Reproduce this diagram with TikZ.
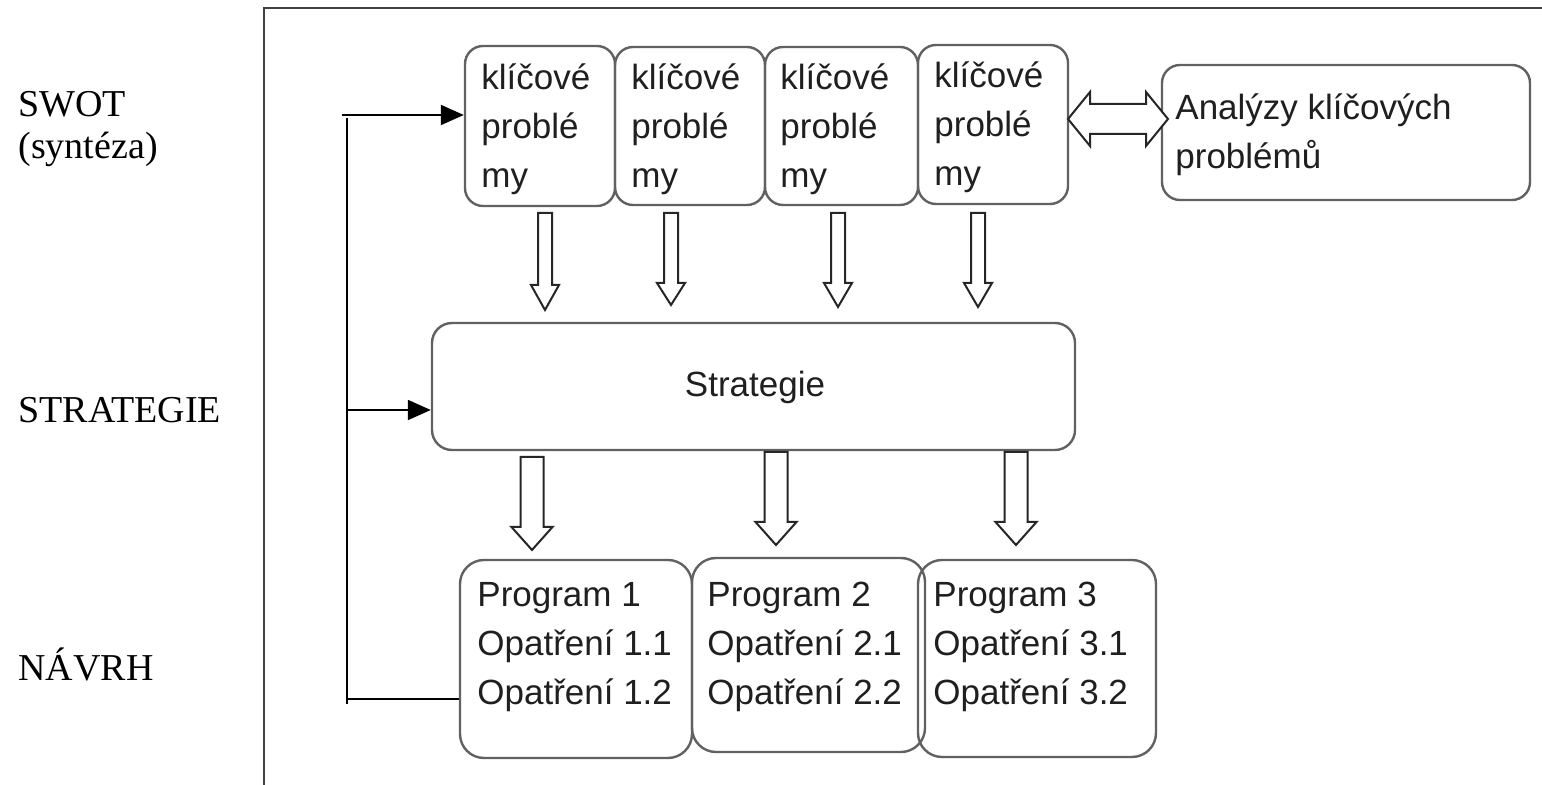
\documentclass[tikz,border=0pt]{standalone}
\usepackage{fontspec}
\setmainfont{Liberation Serif}
\newfontfamily\arialf{Liberation Sans}
\usetikzlibrary{arrows.meta,fit}
\tikzset{
  box/.style={draw=black!62, line width=1.2pt, rounded corners=9pt, inner sep=0pt},
  bigbox/.style={box, rounded corners=12pt},
  btext/.style={anchor=base west, inner sep=0pt, text=black!88,
    font=\arialf\fontsize{17.5}{24.5}\selectfont},
  lbl/.style={anchor=base west, inner sep=0pt, font=\fontsize{19}{19.5}\selectfont},
  fb/.style={line width=1pt, black},
  fbarrow/.style={fb, -{Triangle[length=11.5pt,width=10pt]}},
  hollow/.style={draw=black!85, line width=1pt, fill=white, line join=miter},
  frameline/.style={draw=black!75, line width=1pt},
}
\newcommand\blockdown[6]{% x, ytop, yhead, ytip, shaft half, head half
  \draw[hollow] (#1-#5,#2) -- (#1+#5,#2) -- (#1+#5,#3) -- (#1+#6,#3) -- (#1,#4)
    -- (#1-#6,#3) -- (#1-#5,#3) -- cycle;}
\begin{document}
\begin{tikzpicture}[x=0.5pt,y=-0.5pt]
\useasboundingbox (0,0) rectangle (1542,785);
% frame
\draw[frameline] (264,800) -- (264,8) -- (1560,8);

% left labels
\node[lbl] (swot) at (18,117) {\begin{tabular}[t]{@{}l@{}}SWOT\\[1.5pt](syntéza)\end{tabular}};
\node[lbl] (strl) at (18,423) {STRATEGIE};
\node[lbl] (navrh) at (18,681) {NÁVRH};

% top boxes
\node[box, fit={(465,46) (615,206)}] (k1) {};
\node[box, fit={(615,47) (765,205)}] (k2) {};
\node[box, fit={(765,47) (918,205)}] (k3) {};
\node[box, fit={(918,45) (1068,204)}] (k4) {};
\node[box, fit={(1162,65) (1530,200)}] (an) {};
\node[btext] (k1t) at (481,90) {\begin{tabular}[t]{@{}l@{}}klíčové\\problé\\my\end{tabular}};
\node[btext] (k2t) at (631,90) {\begin{tabular}[t]{@{}l@{}}klíčové\\problé\\my\end{tabular}};
\node[btext] (k3t) at (780,90) {\begin{tabular}[t]{@{}l@{}}klíčové\\problé\\my\end{tabular}};
\node[btext] (k4t) at (934,88) {\begin{tabular}[t]{@{}l@{}}klíčové\\problé\\my\end{tabular}};
\node[btext] (ant) at (1175,120) {\begin{tabular}[t]{@{}l@{}}Analýzy klíčových\\problémů\end{tabular}};

% double arrow
\draw[hollow] (1068,119) -- (1090,92) -- (1090,104) -- (1146,104) -- (1146,92) -- (1168,119)
  -- (1146,146) -- (1146,134) -- (1090,134) -- (1090,146) -- cycle;

% strategy
\node[box, rounded corners=10pt, fit={(432,323) (1075,450)}] (st) {};
\node[btext, anchor=base] (stt) at (755,397) {Strategie};

% top hollow arrows
\blockdown{545}{213}{285}{310}{7}{14}
\blockdown{671}{213}{283}{305}{7}{14}
\blockdown{838}{213}{283}{307}{7}{14}
\blockdown{978}{213}{283}{307}{7}{14}

% bottom hollow arrows
\blockdown{532}{457}{527}{550}{11.5}{20.5}
\blockdown{776}{452}{522}{545}{11.5}{20.5}
\blockdown{1016}{452}{522}{545}{11.5}{20.5}

% bottom boxes
\node[bigbox, fit={(460,560) (692,758)}] (p1) {};
\node[bigbox, fit={(692,558) (925,752)}] (p2) {};
\node[bigbox, fit={(918,560) (1156,757)}] (p3) {};
\node[btext] (p1t) at (477,607) {\begin{tabular}[t]{@{}l@{}}Program 1\\Opatření 1.1\\Opatření 1.2\end{tabular}};
\node[btext] (p2t) at (707,607) {\begin{tabular}[t]{@{}l@{}}Program 2\\Opatření 2.1\\Opatření 2.2\end{tabular}};
\node[btext] (p3t) at (933,607) {\begin{tabular}[t]{@{}l@{}}Program 3\\Opatření 3.1\\Opatření 3.2\end{tabular}};

% feedback lines
\coordinate (ftop) at (342,115);
\coordinate (fmid) at (347,410);
\coordinate (fbot) at (347,699);
\draw[fb] (347,118) -- (347,704);
\draw[fbarrow] (ftop) -- (k1.west |- ftop);
\draw[fbarrow] (fmid) -- (st.west |- fmid);
\draw[fb] (fbot) -- (p1.west |- fbot);
\end{tikzpicture}
\end{document}
